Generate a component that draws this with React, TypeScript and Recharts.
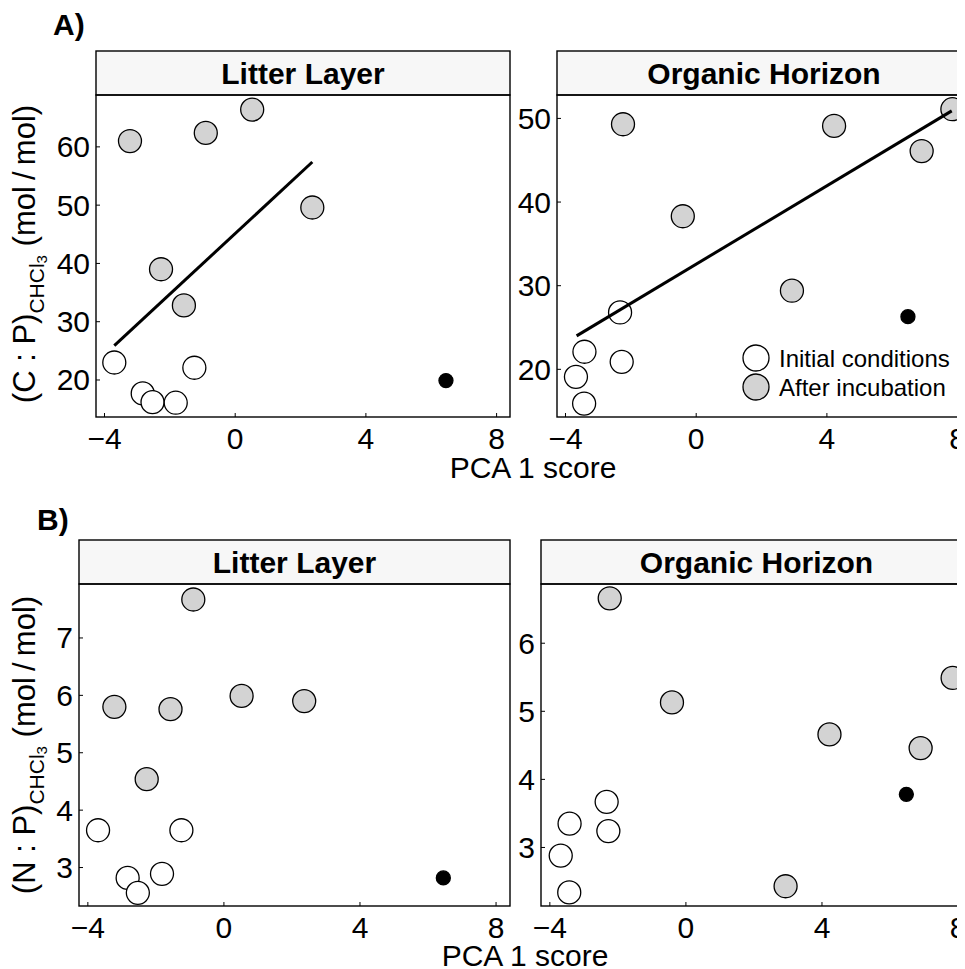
import React from "react";
import { ScatterChart, Scatter, XAxis, YAxis } from "recharts";

// shared x axis (PCA 1 score)
const pcaTicks = [-4, 0, 4, 8];
const pcaDomain = [-4.26, 8.41];

// Litter layer
const litterPcaInitial = [-3.7, -2.83, -2.53, -1.82, -1.25];
const litterPcaAfter = [-3.22, -2.27, -1.57, -0.9, 0.52, 2.36];
const litterPcaOutlier = [6.45];
const litterCpInitial = [23.0, 17.7, 16.2, 16.1, 22.1];
const litterCpAfter = [61.0, 39.0, 32.8, 62.4, 66.4, 49.6];
const litterCpOutlier = [19.9];
const litterNpInitial = [3.65, 2.82, 2.56, 2.89, 3.65];
const litterNpAfter = [5.8, 4.54, 5.76, 7.67, 5.99, 5.9];
const litterNpOutlier = [2.82];
const litterCpFitX = [-3.7, 2.36];
const litterCpFitY = [25.9, 57.4];

// Organic horizon
const organicPcaInitial = [-3.68, -3.43, -3.42, -2.33, -2.28];
const organicPcaAfter = [-2.24, -0.41, 2.93, 4.22, 6.9, 7.84];
const organicPcaOutlier = [6.48];
const organicCpInitial = [19.1, 15.9, 22.1, 26.8, 20.9];
const organicCpAfter = [49.3, 38.3, 29.4, 49.1, 46.1, 51.1];
const organicCpOutlier = [26.3];
const organicNpInitial = [2.88, 2.34, 3.35, 3.67, 3.24];
const organicNpAfter = [6.66, 5.13, 2.43, 4.66, 4.46, 5.49];
const organicNpOutlier = [3.78];
const organicCpFitX = [-3.66, 7.82];
const organicCpFitY = [24.0, 50.9];

// y axes
const cpLitterTicks = [20, 30, 40, 50, 60];
const cpOrganicTicks = [20, 30, 40, 50];
const npLitterTicks = [3, 4, 5, 6, 7];
const npOrganicTicks = [3, 4, 5, 6];

const stripTitles = ["Litter Layer", "Organic Horizon"];
const legendLabels = ["Initial conditions", "After incubation"];

const FONT = '"Liberation Sans", Arial, Helvetica, sans-serif';
const OX = 8; // body margin
const GRAY = "#d3d3d3";

const pts = (xs: number[], ys: number[]) => xs.map((x, i) => ({ x, y: ys[i] }));

const fmt = (v: number) => (v < 0 ? "\u2212" + Math.abs(v) : String(v));

const XTick = (p: any) => (
  <g>
    <line x1={p.x} x2={p.x} y1={p.y} y2={p.y - 4} stroke="#000" strokeWidth={1} />
    <text x={p.x} y={p.y + 32} textAnchor="middle" fontSize={30} fontFamily={FONT} fill="#000">
      {fmt(p.payload.value)}
    </text>
  </g>
);

const YTick = (p: any) => (
  <g>
    <line x1={p.x} x2={p.x + 4} y1={p.y} y2={p.y} stroke="#000" strokeWidth={1} />
    <text x={p.x - 6} y={p.y + 10.5} textAnchor="end" fontSize={30} fontFamily={FONT} fill="#000">
      {fmt(p.payload.value)}
    </text>
  </g>
);

const dot = (fill: string, r: number) => (p: any) =>
  <circle cx={p.cx} cy={p.cy} r={r} fill={fill} stroke="#000" strokeWidth={1.3} />;

const noDot = () => <g />;

type Box = { left: number; top: number; width: number; height: number };

const boxes: Box[] = [
  { left: 96, top: 95, width: 414, height: 322 },
  { left: 557, top: 95, width: 414, height: 322 },
  { left: 79, top: 584, width: 431, height: 322 },
  { left: 541, top: 584, width: 431, height: 322 },
];

function Panel(props: {
  box: Box;
  yDomain: number[];
  yTicks: number[];
  initial: { x: number; y: number }[];
  after: { x: number; y: number }[];
  outlier: { x: number; y: number }[];
  fit?: { x: number; y: number }[];
}) {
  const { box } = props;
  const YW = 70;
  const XH = 45;
  const RP = 10;
  return (
    <div style={{ position: "absolute", left: box.left - YW - OX, top: box.top - OX }}>
      <ScatterChart
        width={box.width + YW + RP}
        height={box.height + XH}
        margin={{ top: 0, right: RP, bottom: 0, left: 0 }}
      >
        <XAxis
          type="number"
          dataKey="x"
          domain={pcaDomain}
          ticks={pcaTicks}
          allowDataOverflow
          interval={0}
          height={XH}
          tickSize={0}
          tickMargin={0}
          tickLine={false}
          axisLine={false}
          tick={(p: any) => <XTick {...p} />}
        />
        <YAxis
          type="number"
          dataKey="y"
          domain={props.yDomain}
          ticks={props.yTicks}
          allowDataOverflow
          interval={0}
          width={YW}
          tickSize={0}
          tickMargin={0}
          tickLine={false}
          axisLine={false}
          tick={(p: any) => <YTick {...p} />}
        />
        <Scatter data={props.initial} shape={dot("#fff", 11.5)} isAnimationActive={false} />
        <Scatter data={props.after} shape={dot(GRAY, 11.5)} isAnimationActive={false} />
        <Scatter data={props.outlier} shape={dot("#000", 7)} isAnimationActive={false} />
        {props.fit && (
          <Scatter
            data={props.fit}
            shape={noDot}
            line={{ stroke: "#000", strokeWidth: 3 }}
            lineType="joint"
            isAnimationActive={false}
          />
        )}
      </ScatterChart>
    </div>
  );
}

function YTitle({ cx, cy, letter }: { cx: number; cy: number; letter: string }) {
  return (
    <text
      transform={`translate(${cx},${cy}) rotate(-90)`}
      textAnchor="middle"
      fontFamily={FONT}
      fontSize={31}
      fill="#000"
    >
      <tspan>{`(${letter}\u00a0:\u00a0P)`}</tspan>
      <tspan fontSize={21} dy={9}>CHCl</tspan>
      <tspan fontSize={15} dy={3}>3</tspan>
      <tspan dy={-12}>{"\u00a0(mol\u2009/\u2009mol)"}</tspan>
    </text>
  );
}

export default function App() {
  return (
    <div
      style={{
        position: "relative",
        width: 965 - OX,
        height: 969 - OX,
        overflow: "hidden",
        background: "#fff",
      }}
    >
      <Panel
        box={boxes[0]}
        yDomain={[13.65, 68.9]}
        yTicks={cpLitterTicks}
        initial={pts(litterPcaInitial, litterCpInitial)}
        after={pts(litterPcaAfter, litterCpAfter)}
        outlier={pts(litterPcaOutlier, litterCpOutlier)}
        fit={pts(litterCpFitX, litterCpFitY)}
      />
      <Panel
        box={boxes[1]}
        yDomain={[14.3, 52.8]}
        yTicks={cpOrganicTicks}
        initial={pts(organicPcaInitial, organicCpInitial)}
        after={pts(organicPcaAfter, organicCpAfter)}
        outlier={pts(organicPcaOutlier, organicCpOutlier)}
        fit={pts(organicCpFitX, organicCpFitY)}
      />
      <Panel
        box={boxes[2]}
        yDomain={[2.33, 7.94]}
        yTicks={npLitterTicks}
        initial={pts(litterPcaInitial, litterNpInitial)}
        after={pts(litterPcaAfter, litterNpAfter)}
        outlier={pts(litterPcaOutlier, litterNpOutlier)}
      />
      <Panel
        box={boxes[3]}
        yDomain={[2.14, 6.87]}
        yTicks={npOrganicTicks}
        initial={pts(organicPcaInitial, organicNpInitial)}
        after={pts(organicPcaAfter, organicNpAfter)}
        outlier={pts(organicPcaOutlier, organicNpOutlier)}
      />
      <svg
        width={965 - OX}
        height={969 - OX}
        style={{ position: "absolute", left: 0, top: 0, pointerEvents: "none" }}
      >
        <g transform={`translate(${-OX},${-OX})`}>
          {boxes.map((b, i) => (
            <g key={i}>
              <rect x={b.left} y={b.top - 44} width={b.width} height={44} fill="#f7f7f7" stroke="#000" strokeWidth={1.4} />
              <text
                x={b.left + b.width / 2}
                y={b.top - 22 + 10.7}
                textAnchor="middle"
                fontFamily={FONT}
                fontWeight="bold"
                fontSize={30}
                fill="#000"
              >
                {stripTitles[i % 2]}
              </text>
              <rect x={b.left} y={b.top} width={b.width} height={b.height} fill="none" stroke="#000" strokeWidth={1.4} />
            </g>
          ))}
          <text x={53} y={35} fontFamily={FONT} fontWeight="bold" fontSize={30} fill="#000">A)</text>
          <text x={37} y={530} fontFamily={FONT} fontWeight="bold" fontSize={30} fill="#000">B)</text>
          <YTitle cx={35} cy={254} letter="C" />
          <YTitle cx={35} cy={745} letter="N" />
          <text x={533} y={478} textAnchor="middle" fontFamily={FONT} fontSize={30} fill="#000">PCA 1 score</text>
          <text x={525} y={966} textAnchor="middle" fontFamily={FONT} fontSize={30} fill="#000">PCA 1 score</text>
          {legendLabels.map((l, i) => (
            <g key={l}>
              <circle cx={756} cy={358 + i * 29} r={13} fill={i === 0 ? "#fff" : GRAY} stroke="#000" strokeWidth={1.3} />
              <text x={779} y={358 + i * 29 + 8.6} fontFamily={FONT} fontSize={24} fill="#000">{l}</text>
            </g>
          ))}
        </g>
      </svg>
    </div>
  );
}
